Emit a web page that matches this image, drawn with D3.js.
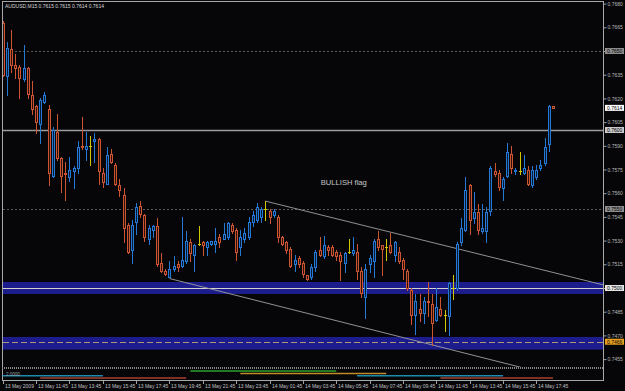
<!DOCTYPE html>
<html>
<head>
<meta charset="utf-8">
<script src="https://cdn.jsdelivr.net/npm/d3@7"></script>
<style>
body { margin: 0; background: #060609; }
svg { display: block; font-family: "Liberation Sans", Arial, sans-serif; }
</style>
</head>
<body>
<script>
// AUDUSD M15, 13-14 May 2009
var symbolTitle = "AUDUSD,M15  0.7615 0.7615 0.7614 0.7614";

var barOpen = [0.7668,0.7634,0.7651,0.7641,0.7640,0.7632,0.7639,0.7622,0.7615,0.7604,
  0.7618,0.7613,0.7571,0.7599,0.7582,0.7573,0.7570,0.7574,0.7576,0.7590,
  0.7588,0.7590,0.7593,0.7594,0.7573,0.7566,0.7585,0.7578,0.7565,0.7559,
  0.7540,0.7524,0.7542,0.7552,0.7546,0.7531,0.7537,0.7539,0.7516,0.7511,
  0.7507,0.7512,0.7515,0.7514,0.7517,0.7529,0.7521,0.7528,0.7529,0.7526,
  0.7528,0.7528,0.7532,0.7531,0.7532,0.7540,0.7537,0.7526,0.7531,0.7532,
  0.7542,0.7543,0.7545,0.7550,0.7549,0.7546,0.7545,0.7532,0.7529,0.7525,
  0.7515,0.7519,0.7516,0.7508,0.7507,0.7513,0.7524,0.7520,0.7526,0.7526,
  0.7523,0.7521,0.7516,0.7523,0.7522,0.7523,0.7511,0.7494,0.7515,0.7517,
  0.7531,0.7527,0.7526,0.7527,0.7521,0.7523,0.7518,0.7511,0.7499,0.7483,
  0.7487,0.7484,0.7492,0.7490,0.7480,0.7487,0.7483,0.7482,0.7500,0.7500,
  0.7529,0.7537,0.7565,0.7544,0.7548,0.7536,0.7536,0.7549,0.7574,0.7573,
  0.7563,0.7571,0.7585,0.7574,0.7574,0.7573,0.7575,0.7565,0.7570,0.7576,
  0.7579,0.7591,0.7615];
var barHigh = [0.7669,0.7656,0.7663,0.7648,0.7641,0.7654,0.7640,0.7631,0.7616,0.7620,
  0.7624,0.7616,0.7602,0.7610,0.7583,0.7580,0.7583,0.7577,0.7593,0.7608,
  0.7599,0.7596,0.7598,0.7595,0.7576,0.7589,0.7588,0.7579,0.7569,0.7563,
  0.7541,0.7543,0.7554,0.7555,0.7547,0.7540,0.7540,0.7544,0.7522,0.7512,
  0.7517,0.7520,0.7517,0.7545,0.7536,0.7531,0.7528,0.7539,0.7530,0.7530,
  0.7530,0.7538,0.7534,0.7541,0.7542,0.7541,0.7538,0.7537,0.7538,0.7545,
  0.7549,0.7554,0.7551,0.7555,0.7550,0.7550,0.7546,0.7533,0.7530,0.7526,
  0.7521,0.7520,0.7517,0.7508,0.7515,0.7524,0.7532,0.7533,0.7527,0.7527,
  0.7524,0.7523,0.7523,0.7531,0.7532,0.7528,0.7513,0.7515,0.7521,0.7531,
  0.7536,0.7527,0.7531,0.7535,0.7530,0.7526,0.7519,0.7512,0.7500,0.7496,
  0.7496,0.7494,0.7504,0.7496,0.7500,0.7494,0.7486,0.7504,0.7508,0.7529,
  0.7544,0.7570,0.7566,0.7561,0.7553,0.7553,0.7551,0.7577,0.7579,0.7575,
  0.7570,0.7592,0.7590,0.7576,0.7586,0.7584,0.7577,0.7577,0.7578,0.7581,
  0.7595,0.7616,0.7615];
var barLow = [0.7634,0.7622,0.7637,0.7633,0.7620,0.7631,0.7620,0.7610,0.7598,0.7592,
  0.7617,0.7565,0.7570,0.7581,0.7561,0.7556,0.7568,0.7563,0.7573,0.7588,
  0.7581,0.7578,0.7580,0.7566,0.7564,0.7566,0.7579,0.7565,0.7558,0.7529,
  0.7522,0.7516,0.7534,0.7545,0.7530,0.7528,0.7532,0.7514,0.7510,0.7508,
  0.7507,0.7511,0.7511,0.7513,0.7516,0.7517,0.7511,0.7527,0.7521,0.7521,
  0.7527,0.7523,0.7526,0.7531,0.7531,0.7535,0.7518,0.7521,0.7529,0.7531,
  0.7539,0.7542,0.7542,0.7543,0.7541,0.7545,0.7529,0.7527,0.7522,0.7513,
  0.7511,0.7513,0.7507,0.7505,0.7506,0.7511,0.7520,0.7519,0.7521,0.7520,
  0.7518,0.7505,0.7510,0.7522,0.7521,0.7506,0.7494,0.7481,0.7510,0.7507,
  0.7524,0.7508,0.7518,0.7522,0.7517,0.7516,0.7506,0.7499,0.7477,0.7471,
  0.7479,0.7478,0.7482,0.7464,0.7479,0.7482,0.7473,0.7470,0.7493,0.7499,
  0.7527,0.7536,0.7534,0.7541,0.7534,0.7535,0.7529,0.7546,0.7571,0.7562,
  0.7556,0.7570,0.7573,0.7572,0.7572,0.7572,0.7565,0.7564,0.7569,0.7575,
  0.7578,0.7587,0.7614];
var barClose = [0.7635,0.7652,0.7641,0.7639,0.7633,0.7639,0.7623,0.7613,0.7605,0.7619,
  0.7622,0.7573,0.7600,0.7582,0.7571,0.7572,0.7575,0.7576,0.7589,0.7589,
  0.7590,0.7590,0.7594,0.7574,0.7567,0.7584,0.7580,0.7566,0.7562,0.7538,
  0.7523,0.7540,0.7551,0.7547,0.7532,0.7538,0.7539,0.7515,0.7511,0.7509,
  0.7512,0.7514,0.7513,0.7518,0.7530,0.7522,0.7527,0.7528,0.7527,0.7529,
  0.7530,0.7530,0.7529,0.7534,0.7541,0.7536,0.7523,0.7532,0.7535,0.7542,
  0.7546,0.7551,0.7550,0.7550,0.7545,0.7549,0.7532,0.7528,0.7524,0.7514,
  0.7518,0.7515,0.7509,0.7506,0.7513,0.7523,0.7521,0.7527,0.7524,0.7521,
  0.7520,0.7517,0.7522,0.7523,0.7524,0.7511,0.7497,0.7512,0.7519,0.7530,
  0.7526,0.7525,0.7526,0.7523,0.7529,0.7517,0.7512,0.7500,0.7483,0.7492,
  0.7484,0.7492,0.7491,0.7478,0.7488,0.7483,0.7483,0.7503,0.7500,0.7528,
  0.7538,0.7562,0.7543,0.7548,0.7537,0.7538,0.7548,0.7576,0.7572,0.7564,
  0.7569,0.7586,0.7576,0.7575,0.7574,0.7576,0.7566,0.7575,0.7575,0.7578,
  0.7589,0.7615,0.7614];

// time axis: one label every 8 bars
var timeTickBars = [0,8,16,24,32,40,48,56,64,72,80,88,96,104,112,120,128];
var timeTickLabels = ["13 May 2009","13 May 11:45","13 May 13:45","13 May 15:45","13 May 17:45",
  "13 May 19:45","13 May 21:45","13 May 23:45","14 May 01:45","14 May 03:45","14 May 05:45",
  "14 May 07:45","14 May 09:45","14 May 11:45","14 May 13:45","14 May 15:45","14 May 17:45"];

var priceTicks = [0.7680,0.7665,0.7650,0.7635,0.7620,0.7605,0.7590,0.7575,0.7560,0.7545,
  0.7530,0.7515,0.7500,0.7485,0.7470,0.7455];

// drawn objects
var dottedLevels = [0.7650, 0.7550];
var solidLevels = [0.7600, 0.7500];
var dashedLevels = [0.7466];
var zoneLow = [0.74962, 0.74610];
var zoneHigh = [0.75038, 0.74690];
var currentPrice = 0.7614;

var trendFromBar = [63, 40];
var trendFromPrice = [0.7555, 0.7506];
var trendToBar = [144, 103];
var trendToPrice = [0.7502, 0.7464];

var noteText = "BULLISH flag";
var noteBar = 76.3;
var notePrice = 0.7565;

// session bars in the sub window
var sessionName = ["London", "New York", "Sydney", "Tokyo", "London", "New York"];
var sessionStart = [0, 9, 45, 57, 85, 105];
var sessionEnd = [24, 44, 80, 92, 120, 132];
var indicatorLabel = "2.0000";

var W = 625, H = 391;
var plot = { left: 3, right: 603, top: 2, bottom: 367 };

var svg = d3.select("body").append("svg")
    .attr("width", W)
    .attr("height", H);

svg.append("rect").attr("width", W).attr("height", H).attr("fill", "#060609");

var x = d3.scaleLinear().domain([0, 132]).range([2.7, 553]);
var y = d3.scaleLinear().domain([0.7455, 0.7680]).range([359.1, 3.6]);

function px(i) { return Math.round(x(i)) + 0.5; }
function py(p) { return Math.round(y(p)) + 0.5; }

svg.append("clipPath").attr("id", "plotclip")
    .append("rect")
    .attr("x", plot.left).attr("y", plot.top)
    .attr("width", plot.right - plot.left).attr("height", plot.bottom - plot.top);

var g = svg.append("g").attr("clip-path", "url(#plotclip)");

// support zones
g.selectAll("rect.zone")
    .data(zoneLow)
    .enter().append("rect")
    .attr("class", "zone")
    .attr("x", plot.left)
    .attr("width", plot.right - plot.left)
    .attr("y", function (d, i) { return y(zoneHigh[i]); })
    .attr("height", function (d, i) { return y(zoneLow[i]) - y(zoneHigh[i]); })
    .attr("fill", "#1c1c8c");

// horizontal levels
g.selectAll("line.dotted")
    .data(dottedLevels)
    .enter().append("line")
    .attr("x1", plot.left).attr("x2", plot.right)
    .attr("y1", py).attr("y2", py)
    .attr("stroke", "#5c5c5c")
    .attr("stroke-dasharray", "2,2");

g.selectAll("line.solid")
    .data(solidLevels)
    .enter().append("line")
    .attr("x1", plot.left).attr("x2", plot.right)
    .attr("y1", py).attr("y2", py)
    .attr("stroke", function (d, i) { return i == 0 ? "#9c9c9c" : "#d2d2d2"; })
    .attr("stroke-width", function (d, i) { return i == 0 ? 1.6 : 1; });

g.selectAll("line.dashed")
    .data(dashedLevels)
    .enter().append("line")
    .attr("x1", plot.left).attr("x2", plot.right)
    .attr("y1", py).attr("y2", py)
    .attr("stroke", "#a8987e")
    .attr("stroke-dasharray", "6,3");

// trend lines (rays to the right)
g.selectAll("line.trend")
    .data(trendFromBar)
    .enter().append("line")
    .attr("x1", function (d) { return x(d); })
    .attr("y1", function (d, i) { return y(trendFromPrice[i]); })
    .attr("x2", function (d, i) {
        return x(d) + (x(trendToBar[i]) - x(d)) * 3;
    })
    .attr("y2", function (d, i) {
        return y(trendFromPrice[i]) + (y(trendToPrice[i]) - y(trendFromPrice[i])) * 3;
    })
    .attr("stroke", "#a0a0a0")
    .attr("stroke-width", 0.9);

// candles
var bars = d3.range(barOpen.length);
function candleColor(i) {
    if (barClose[i] > barOpen[i]) return "#2579d6";
    if (barClose[i] < barOpen[i]) return "#cc5430";
    return "#cfc800";
}
function candleFill(i) {
    if (barClose[i] > barOpen[i]) return "#0b1930";
    if (barClose[i] < barOpen[i]) return "#2a110b";
    return "none";
}

g.selectAll("line.wick")
    .data(bars)
    .enter().append("line")
    .attr("x1", px).attr("x2", px)
    .attr("y1", function (i) { return Math.round(y(barHigh[i])); })
    .attr("y2", function (i) { return Math.round(y(barLow[i])) + 1; })
    .attr("stroke", candleColor);

g.selectAll("rect.body")
    .data(bars.filter(function (i) { return barOpen[i] != barClose[i]; }))
    .enter().append("rect")
    .attr("x", function (i) { return px(i) - 1; })
    .attr("width", 2)
    .attr("y", function (i) { return py(Math.max(barOpen[i], barClose[i])); })
    .attr("height", function (i) {
        return Math.max(1, py(Math.min(barOpen[i], barClose[i])) - py(Math.max(barOpen[i], barClose[i])));
    })
    .attr("fill", candleFill)
    .attr("stroke", candleColor);

g.selectAll("line.doji")
    .data(bars.filter(function (i) { return barOpen[i] == barClose[i]; }))
    .enter().append("line")
    .attr("x1", function (i) { return px(i) - 1.5; })
    .attr("x2", function (i) { return px(i) + 1.5; })
    .attr("y1", function (i) { return py(barClose[i]); })
    .attr("y2", function (i) { return py(barClose[i]); })
    .attr("stroke", candleColor);

// note
g.append("text")
    .attr("x", x(noteBar))
    .attr("y", y(notePrice))
    .attr("fill", "#c8c8c8")
    .attr("font-size", "7.6px")
    .text(noteText);

// title
svg.append("text")
    .attr("x", 5).attr("y", 8)
    .attr("fill", "#d8d8d8")
    .attr("font-size", "5px")
    .text(symbolTitle);

// frame
svg.append("line").attr("x1", 2).attr("x2", plot.right).attr("y1", 1.5).attr("y2", 1.5)
    .attr("stroke", "#a8a8a8");
svg.append("line").attr("x1", 2.5).attr("x2", 2.5).attr("y1", 1).attr("y2", 381)
    .attr("stroke", "#a8a8a8");
svg.append("line").attr("x1", plot.right + 0.5).attr("x2", plot.right + 0.5).attr("y1", 1).attr("y2", 381)
    .attr("stroke", "#a8a8a8");
svg.append("line").attr("x1", 2).attr("x2", plot.right).attr("y1", 368).attr("y2", 368)
    .attr("stroke", "#8a8a8a").attr("stroke-width", 2).attr("stroke-dasharray", "1,1");
svg.append("line").attr("x1", 2).attr("x2", plot.right).attr("y1", 380.5).attr("y2", 380.5)
    .attr("stroke", "#a8a8a8");

// price axis
var yAxis = svg.append("g")
    .attr("transform", "translate(" + (plot.right + 0.5) + ",0)")
    .call(d3.axisRight(y).tickValues(priceTicks).tickFormat(d3.format(".4f")).tickSize(3).tickPadding(1));
yAxis.select(".domain").remove();
yAxis.selectAll("line").attr("stroke", "#a0a0a0");
yAxis.selectAll("text").attr("fill", "#b8b8b8").attr("font-size", "5px")
    .attr("font-family", "Liberation Sans, Arial, sans-serif");

// highlighted price labels
var tagPrices = dottedLevels.concat(solidLevels, dashedLevels, [currentPrice]);
var tagFill = ["#8c8c8c", "#8c8c8c", "#c8c8c8", "#e4e4e4", "#e8a020", "#ffffff"];
var tags = svg.append("g").selectAll("g")
    .data(tagPrices)
    .enter().append("g")
    .attr("transform", function (d) { return "translate(" + (plot.right + 1) + "," + y(d) + ")"; });
tags.append("rect")
    .attr("x", 1).attr("y", -3).attr("width", 19).attr("height", 6)
    .attr("fill", function (d, i) { return tagFill[i]; });
tags.append("text")
    .attr("x", 3).attr("y", 1.8)
    .attr("font-size", "5px")
    .attr("fill", "#000")
    .text(function (d) { return d3.format(".4f")(d); });

// sub window: sessions
var sessionRow = d3.scaleOrdinal().domain(["Sydney", "Tokyo", "London", "New York"]).range([371, 373.5, 375.8, 378]);
var sessionColor = d3.scaleOrdinal().domain(["Sydney", "Tokyo", "London", "New York"])
    .range(["#2ea02e", "#c08c28", "#1f8ab0", "#a8402c"]);
svg.append("g").selectAll("line")
    .data(sessionName)
    .enter().append("line")
    .attr("x1", function (d, i) { return x(sessionStart[i]); })
    .attr("x2", function (d, i) { return x(sessionEnd[i]); })
    .attr("y1", function (d) { return sessionRow(d); })
    .attr("y2", function (d) { return sessionRow(d); })
    .attr("stroke", sessionColor)
    .attr("stroke-width", 1.5);

svg.append("text")
    .attr("x", 6).attr("y", 376)
    .attr("fill", "#a0a0a0")
    .attr("font-size", "4.5px")
    .text(indicatorLabel);

// time axis
var tAxis = svg.append("g").selectAll("g")
    .data(timeTickBars)
    .enter().append("g")
    .attr("transform", function (d) { return "translate(" + px(d) + ",381)"; });
tAxis.append("line").attr("y1", 0).attr("y2", 3).attr("stroke", "#a0a0a0");
tAxis.append("text")
    .attr("x", 1.5).attr("y", 7)
    .attr("fill", "#c0c0c0")
    .attr("font-size", "5px")
    .text(function (d, i) { return timeTickLabels[i]; });
</script>
</body>
</html>
